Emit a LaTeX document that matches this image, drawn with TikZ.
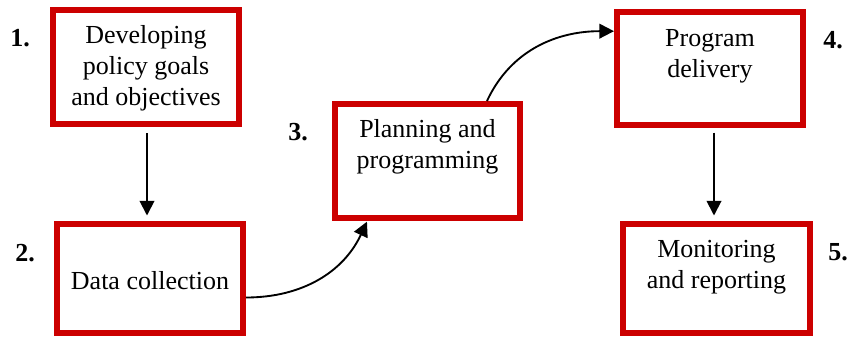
\documentclass[tikz,border=0pt]{standalone}
\usepackage{fontspec}
\setmainfont{Liberation Serif}
\usetikzlibrary{arrows.meta,calc}
\definecolor{boxred}{HTML}{CC0000}
\begin{document}
\begin{tikzpicture}[x=0.75pt,y=-0.75pt,
  stepbox/.style={draw=boxred,line width=4.5pt,rectangle,inner sep=0pt},
  txt/.style={align=center,font=\fontsize{19.5}{23.25}\selectfont,inner sep=0pt},
  num/.style={font=\fontsize{19.5}{23.25}\selectfont\bfseries,inner sep=0pt},
  conn/.style={line width=1.4pt,-{Triangle[width=11pt,length=11pt]}}]
\useasboundingbox (0,0) rectangle (850,337);
\node[stepbox,minimum width=139.5pt,minimum height=85.5pt] (b1) at (146,67) {};
\node[stepbox,minimum width=139.5pt,minimum height=82pt] (b2) at (150,278.5) {};
\node[stepbox,minimum width=138.75pt,minimum height=85.5pt] (b3) at (427.5,161) {};
\node[stepbox,minimum width=139.5pt,minimum height=84.75pt] (b4) at (710,68.5) {};
\node[stepbox,minimum width=140.25pt,minimum height=82pt] (b5) at (716.5,278.5) {};
\node[txt] (t1) at (146,68) {Developing\\policy goals\\and objectives};
\node[txt] (t2) at (150,281) {Data collection};
\node[txt] (t3) at (427.5,147) {Planning and\\programming};
\node[txt] (t4) at (710,56) {Program\\delivery};
\node[txt] (t5) at (716.5,267) {Monitoring\\and reporting};
\node[num] (n1) at (20,38) {1.};
\node[num] (n2) at (25,253) {2.};
\node[num] (n3) at (298,132) {3.};
\node[num] (n4) at (833,40) {4.};
\node[num] (n5) at (838,252) {5.};
\draw[conn,shorten <=4.5pt,shorten >=4pt] ([xshift=0.75pt]b1.south) -- ([xshift=0.75pt]b1.south |- b2.north);
\draw[conn,shorten <=3.5pt,shorten >=4pt] ([xshift=3pt]b4.south) -- ([xshift=3pt]b4.south |- b5.north);
\draw[conn] ([yshift=-14.25pt]b2.east) to[out=0,in=-115] ([xshift=-45.4pt,yshift=-0.5pt]b3.south);
\draw[conn] ([xshift=44.6pt]b3.north) to[out=65,in=180] ([yshift=28pt]b4.west);
\end{tikzpicture}
\end{document}
